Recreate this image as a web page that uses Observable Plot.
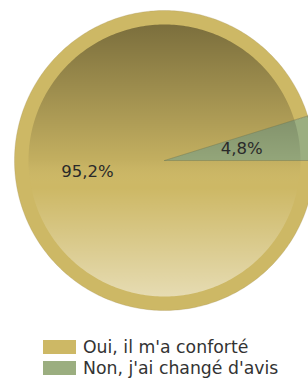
<!DOCTYPE html>
<html>
<head>
<meta charset="utf-8">
<script src="https://cdn.jsdelivr.net/npm/d3@7"></script>
<script src="https://cdn.jsdelivr.net/npm/@observablehq/plot@0.6"></script>
<style>
  html, body { margin: 0; padding: 0; background: #fff; }
  body { width: 308px; height: 378px; overflow: hidden; font-family: "DejaVu Sans", sans-serif; }
  #chart svg { display: block; }
  .legend { margin-left: 43px; margin-top: 14px; }
  .item { display: flex; align-items: center; height: 21px; line-height: 20px; font-size: 17.3px; color: #333; white-space: nowrap; }
  .sw { width: 33px; height: 14px; margin-right: 7px; flex: none; }
</style>
</head>
<body>
<div id="chart"></div>
<div class="legend" id="legend"></div>
<script>
const categories = ["Oui, il m'a conforté", "Non, j'ai changé d'avis"];
const values = [95.2, 4.8];
const labels = ["95,2%", "4,8%"];
const colors = ["#cdb865", "#9bae80"];

const R = 150, RI = 136, LR = 78;
const total = d3.sum(values);
// Slices run counter-clockwise; the last slice starts at 3 o'clock.
const order = [1, 0];
const slices = [];
let a0 = 0;
for (const i of order) {
  const a1 = a0 + values[i] / total * 2 * Math.PI;
  slices.push({i, a0, a1});
  a0 = a1;
}
function wedge(s, r) {
  const pts = [{x: 0, y: 0, k: s.i}];
  const n = Math.max(2, Math.ceil((s.a1 - s.a0) / (Math.PI / 180)));
  for (let j = 0; j <= n; j++) {
    const a = s.a0 + (s.a1 - s.a0) * j / n;
    pts.push({x: r * Math.cos(a), y: r * Math.sin(a), k: s.i});
  }
  pts.push({x: 0, y: 0, k: s.i});
  return pts;
}
const outer = slices.flatMap(s => wedge(s, R));
const inner = slices.flatMap(s => wedge(s, RI));
const disk = wedge({i: 9, a0: 0, a1: 2 * Math.PI}, RI);
const labelData = slices.map(s => {
  const m = (s.a0 + s.a1) / 2;
  return {x: LR * Math.cos(m), y: LR * Math.sin(m), t: labels[s.i]};
});

const plot = Plot.plot({
  width: 308, height: 322, margin: 0,
  x: {domain: [-R, R], range: [14, 314], axis: null},
  y: {domain: [-R, R], range: [310, 10], axis: null},
  marks: [
    Plot.line(outer, {x: "x", y: "y", z: "k", fill: d => colors[d.k], stroke: "#a8955a", strokeWidth: 0.6, strokeOpacity: 0.5, curve: "linear"}),
    Plot.line(inner, {x: "x", y: "y", z: "k", fill: d => colors[d.k], stroke: "none", curve: "linear"}),
    Plot.line(disk, {x: "x", y: "y", fill: "url(#shade)", stroke: "none", curve: "linear"}),
    Plot.line(outer.filter(d => d.k === 1), {x: "x", y: "y", z: "k", fill: "none", stroke: "#6e7a55", strokeWidth: 0.8, strokeOpacity: 0.6, curve: "linear"}),
    Plot.text(labelData, {x: "x", y: "y", text: "t", fontSize: 16.5, fill: "#2a2a2a", fontFamily: "DejaVu Sans"})
  ]
});
const ns = "http://www.w3.org/2000/svg";
const defs = document.createElementNS(ns, "defs");
defs.innerHTML = `<linearGradient id="shade" x1="0" y1="0" x2="0" y2="1">
  <stop offset="0" stop-color="#000" stop-opacity="0.4"/>
  <stop offset="0.5" stop-color="#000" stop-opacity="0.05"/>
  <stop offset="0.6" stop-color="#fff" stop-opacity="0"/>
  <stop offset="1" stop-color="#fff" stop-opacity="0.5"/>
</linearGradient>`;
plot.insertBefore(defs, plot.firstChild);
document.getElementById("chart").appendChild(plot);

const leg = document.getElementById("legend");
categories.forEach((c, i) => {
  const it = document.createElement("div");
  it.className = "item";
  it.innerHTML = `<span class="sw" style="background:${colors[i]}"></span><span></span>`;
  it.lastChild.textContent = c;
  leg.appendChild(it);
});
</script>
</body>
</html>
